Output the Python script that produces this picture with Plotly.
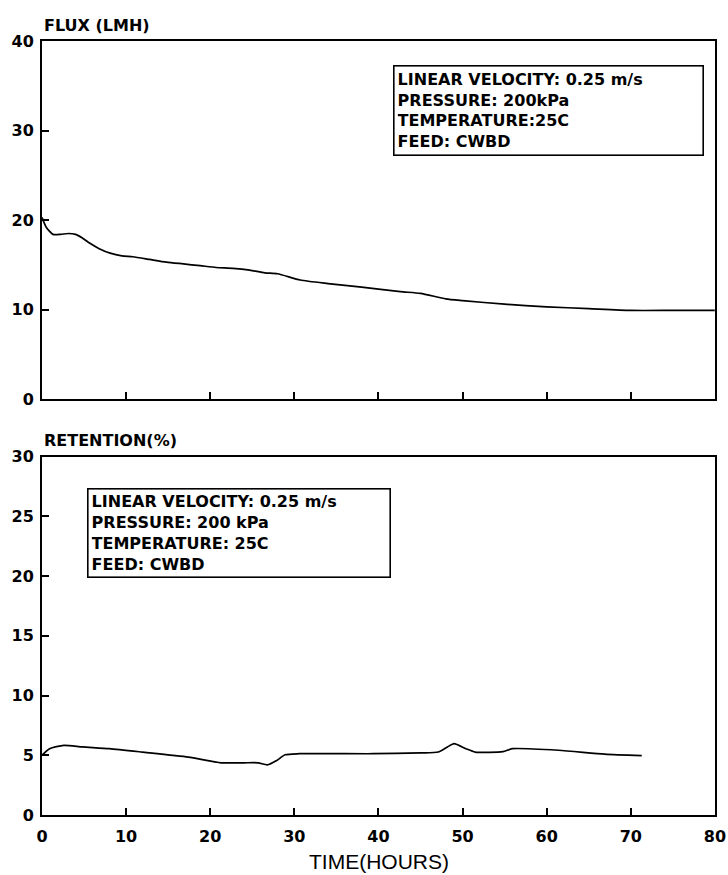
import plotly.graph_objects as go

# Permeate flux over the run (hours, LMH)
flux_time = [0, 0.5, 1.3, 2.2, 3.1, 4.0, 4.8, 5.7, 6.8, 8.1, 9.5, 10.8, 12.8, 14.8, 16.8,
             18.8, 20.7, 22.7, 24.7, 26.5, 28.0, 30.7, 34.0, 38.0, 42.6, 45.0, 48.0,
             50.0, 55.0, 60.0, 65.0, 70.0, 75.0, 80.0]
flux_lmh = [20.3, 19.2, 18.4, 18.4, 18.5, 18.4, 18.0, 17.4, 16.8, 16.3, 16.0, 15.9, 15.6, 15.3, 15.1,
            14.9, 14.7, 14.6, 14.4, 14.1, 14.0, 13.3, 12.9, 12.5, 12.0, 11.8, 11.2,
            11.0, 10.6, 10.3, 10.1, 9.9, 9.9, 9.9]

# Solute retention over the run (hours, %)
ret_time = [0, 0.9, 2.6, 4.8, 8.0, 11.9, 17.4, 21.3, 24.0, 25.7, 26.8, 27.9, 28.9, 30.6,
            39.4, 45.0, 47.1, 48.2, 49.0, 50.4, 51.5, 54.8, 55.9, 61.4, 66.9, 71.3]
retention_pct = [5.0, 5.55, 5.83, 5.7, 5.55, 5.27, 4.85, 4.37, 4.37, 4.37, 4.2, 4.56, 5.04, 5.13,
                 5.13, 5.2, 5.27, 5.7, 5.97, 5.55, 5.27, 5.3, 5.55, 5.42, 5.1, 4.97]

x_ticks = [0, 10, 20, 30, 40, 50, 60, 70, 80]
flux_ticks = [0, 10, 20, 30, 40]
ret_ticks = [0, 5, 10, 15, 20, 25, 30]

conditions_top = ["LINEAR VELOCITY: 0.25 m/s", "PRESSURE: 200kPa", "TEMPERATURE:25C", "FEED: CWBD"]
conditions_bottom = ["LINEAR VELOCITY: 0.25 m/s", "PRESSURE: 200 kPa", "TEMPERATURE: 25C", "FEED: CWBD"]

BOLD = "DejaVu Sans"
PLAIN = "Liberation Sans"

fig = go.Figure()
curve = dict(color="black", width=1.7, shape="spline", smoothing=0.6)
fig.add_trace(go.Scatter(x=flux_time, y=flux_lmh, mode="lines", line=curve,
                         xaxis="x", yaxis="y", showlegend=False))
fig.add_trace(go.Scatter(x=ret_time, y=retention_pct, mode="lines", line=curve,
                         xaxis="x2", yaxis="y2", showlegend=False))

axis_common = dict(showline=True, linecolor="black", linewidth=2, mirror=True, showgrid=False, zeroline=False,
                   ticks="inside", ticklen=7, tickcolor="black", tickwidth=1.5, automargin=False,
                   tickfont=dict(family=BOLD, size=16, color="black", weight="bold"))

fig.update_layout(
    width=728, height=875,
    margin=dict(l=0, r=0, t=0, b=0),
    paper_bgcolor="white", plot_bgcolor="white",
    xaxis=dict(domain=[0.0577, 0.982], range=[0, 80], tickvals=x_ticks, showticklabels=False,
               anchor="y", **axis_common),
    yaxis=dict(domain=[0.544, 0.953], range=[0, 40], tickvals=flux_ticks, anchor="x",
               ticklabelstandoff=3, **axis_common),
    xaxis2=dict(domain=[0.0577, 0.982], range=[0, 80], tickvals=x_ticks, anchor="y2",
                ticklabelstandoff=6, **axis_common),
    yaxis2=dict(domain=[0.0686, 0.478], range=[0, 30], tickvals=ret_ticks, anchor="x2",
                ticklabelstandoff=3, **axis_common),
)

title_font = dict(family=BOLD, size=16, color="black", weight="bold")
fig.add_annotation(text="FLUX (LMH)", xref="paper", yref="paper", x=0.0577, y=0.971,
                   xanchor="left", yanchor="middle", showarrow=False, font=title_font)
fig.add_annotation(text="RETENTION(%)", xref="paper", yref="paper", x=0.0577, y=0.497,
                   xanchor="left", yanchor="middle", showarrow=False, font=title_font)
fig.add_annotation(text="TIME(HOURS)", xref="paper", yref="paper", x=0.52, y=0.0,
                   xanchor="center", yanchor="bottom", showarrow=False,
                   font=dict(family=PLAIN, size=21, color="black"))

# Operating-condition boxes (framed, left-aligned multi-line text)
box_font = dict(family=BOLD, size=16, color="black", weight="bold")
fig.add_annotation(text="<br>".join(conditions_top), xref="x", yref="y", x=41.7, y=37.3,
                   xanchor="left", yanchor="top", align="left", valign="middle", width=302, height=82,
                   showarrow=False, bordercolor="black", borderwidth=1.6, borderpad=3, bgcolor="white",
                   font=box_font)
fig.add_annotation(text="<br>".join(conditions_bottom), xref="x2", yref="y2", x=5.35, y=27.4,
                   xanchor="left", yanchor="top", align="left", valign="middle", width=295, height=81,
                   showarrow=False, bordercolor="black", borderwidth=1.6, borderpad=3, bgcolor="white",
                   font=box_font)

fig.write_html("out.html", post_script="document.body.style.margin='0';document.body.style.overflow='hidden';")
